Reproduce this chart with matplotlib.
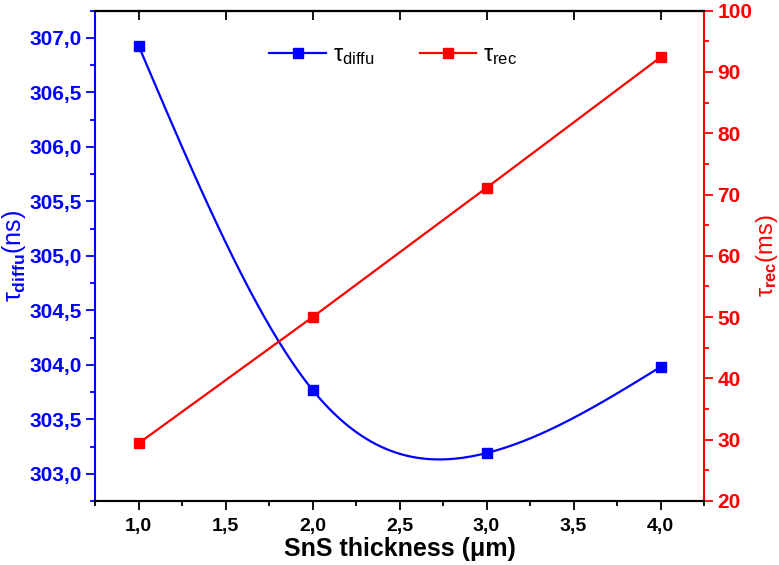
import numpy as np
import matplotlib
matplotlib.use("Agg")
import matplotlib.pyplot as plt
from matplotlib.ticker import MultipleLocator, FuncFormatter
from matplotlib.lines import Line2D

thickness = [1.0, 2.0, 3.0, 4.0]
tau_diffu = [306.93, 303.77, 303.19, 303.98]
tau_rec = [29.4, 50.0, 71.1, 92.4]

BLUE = "#0000FF"
RED = "#FF0000"

plt.rcParams['font.family'] = ['Liberation Sans', 'DejaVu Sans']
plt.rcParams['mathtext.fontset'] = 'custom'
plt.rcParams['mathtext.rm'] = 'Liberation Sans'
plt.rcParams['mathtext.it'] = 'Liberation Sans'
plt.rcParams['mathtext.bf'] = 'Liberation Sans:bold'


def natural_spline(x, y, xs):
    x = np.asarray(x, float)
    y = np.asarray(y, float)
    n = len(x)
    h = np.diff(x)
    A = np.zeros((n, n))
    b = np.zeros(n)
    A[0, 0] = 1
    A[-1, -1] = 1
    for i in range(1, n - 1):
        A[i, i - 1] = h[i - 1]
        A[i, i] = 2 * (h[i - 1] + h[i])
        A[i, i + 1] = h[i]
        b[i] = 6 * ((y[i + 1] - y[i]) / h[i] - (y[i] - y[i - 1]) / h[i - 1])
    M = np.linalg.solve(A, b)
    out = np.empty_like(xs)
    for k, t in enumerate(xs):
        i = min(max(np.searchsorted(x, t) - 1, 0), n - 2)
        dx1 = x[i + 1] - t
        dx0 = t - x[i]
        out[k] = (M[i] * dx1 ** 3 / (6 * h[i]) + M[i + 1] * dx0 ** 3 / (6 * h[i])
                  + (y[i] / h[i] - M[i] * h[i] / 6) * dx1
                  + (y[i + 1] / h[i] - M[i + 1] * h[i] / 6) * dx0)
    return out


fig = plt.figure(figsize=(7.79, 5.65), dpi=100)
ax = fig.add_axes([95 / 779, 1 - 501 / 565, (704 - 95) / 779, (501 - 10.7) / 565])
ax2 = ax.twinx()

xs = np.linspace(thickness[0], thickness[-1], 300)
ys = natural_spline(thickness, tau_diffu, xs)
ax.plot(xs, ys, color=BLUE, lw=1.6, zorder=3)
ax.plot(thickness, tau_diffu, 's', color=BLUE, ms=7, zorder=4)
ax2.plot(thickness, tau_rec, '-', color=RED, lw=1.6, zorder=3)
ax2.plot(thickness, tau_rec, 's', color=RED, ms=7, zorder=4)

ax.set_xlim(0.75, 4.25)
ax.set_ylim(302.75, 307.25)
ax2.set_ylim(20, 100)

comma1 = FuncFormatter(lambda v, p: f"{v:.1f}".replace('.', ','))
intfmt = FuncFormatter(lambda v, p: f"{v:.0f}")

ax.set_xticks([1.0, 1.5, 2.0, 2.5, 3.0, 3.5, 4.0])
ax.xaxis.set_minor_locator(MultipleLocator(0.25))
ax.xaxis.set_major_formatter(comma1)
ax.yaxis.set_major_locator(MultipleLocator(0.5))
ax.yaxis.set_minor_locator(MultipleLocator(0.25))
ax.yaxis.set_major_formatter(comma1)
ax2.yaxis.set_major_locator(MultipleLocator(10))
ax2.yaxis.set_minor_locator(MultipleLocator(5))
ax2.yaxis.set_major_formatter(intfmt)

for a in (ax, ax2):
    for s in a.spines.values():
        s.set_linewidth(1.5)
ax.spines['left'].set_color(BLUE)
ax2.spines['left'].set_visible(False)
ax2.spines['right'].set_color(RED)
ax.spines['right'].set_visible(False)

MAJ, MIN = 6.5, 3.8
ax.tick_params(axis='x', which='major', direction='out', length=MAJ, width=1.3,
               labelsize=14, pad=6, top=False)
ax.tick_params(axis='x', which='minor', direction='out', length=MIN, width=1.3, top=False)
ax.tick_params(axis='y', which='major', direction='out', length=MAJ, width=1.3,
               colors=BLUE, labelsize=15, pad=3)
ax.tick_params(axis='y', which='minor', direction='out', length=MIN, width=1.3, colors=BLUE)
ax2.tick_params(axis='y', which='major', direction='out', length=MAJ, width=1.3,
                colors=RED, labelsize=15, pad=3)
ax2.tick_params(axis='y', which='minor', direction='out', length=MIN, width=1.3, colors=RED)

sec = ax.secondary_xaxis('top')
sec.set_xticks([1.0, 1.5, 2.0, 2.5, 3.0, 3.5, 4.0])
sec.tick_params(direction='in', length=MAJ, width=1.3, labeltop=False)
sec.spines['top'].set_linewidth(1.5)

for lbl in ax.get_xticklabels() + ax.get_yticklabels() + ax2.get_yticklabels():
    lbl.set_fontweight('bold')

ax.set_xlabel("SnS thickness (\u03bcm)", fontsize=18, fontweight='bold', labelpad=1)
ax.set_ylabel(r"$\tau_{\mathbf{diffu}}$(ns)", fontsize=18, color=BLUE, labelpad=1)
ax2.set_ylabel(r"$\tau_{\mathbf{rec}}$(ms)", fontsize=17, color=RED, labelpad=1)

h1 = Line2D([], [], color=BLUE, lw=1.6, marker='s', ms=7)
h2 = Line2D([], [], color=RED, lw=1.6, marker='s', ms=7)
ax.legend([h1, h2], [r"$\tau_{\mathrm{diffu}}$", r"$\tau_{\mathrm{rec}}$"],
          loc='upper center', bbox_to_anchor=(0.49, 0.975), ncol=2, frameon=False,
          fontsize=17, handlelength=2.4, columnspacing=1.9, handletextpad=0.3)

fig.savefig("out.png", dpi=100)
